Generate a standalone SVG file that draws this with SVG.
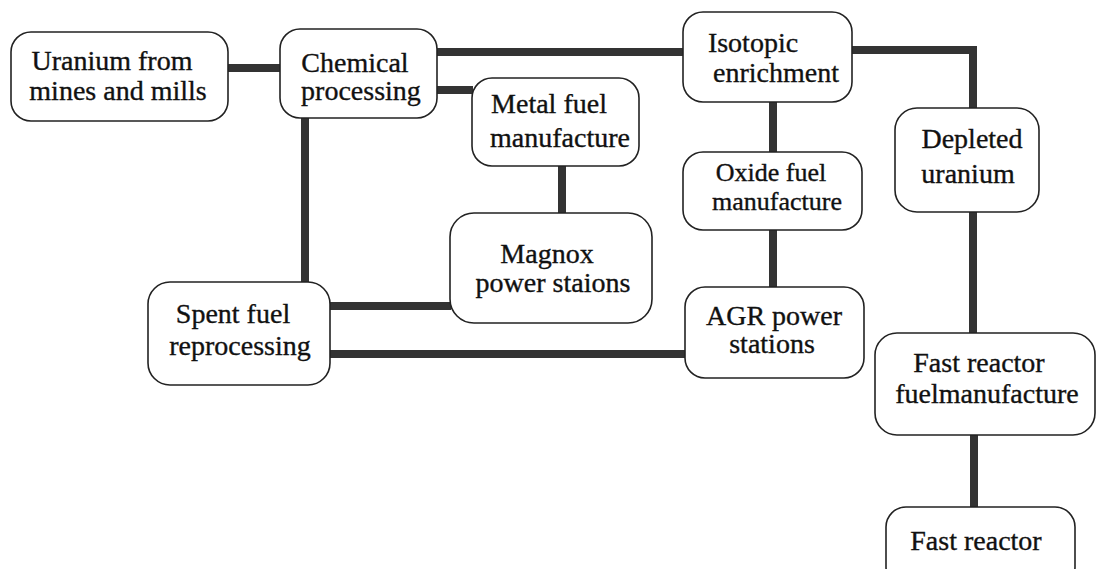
<svg xmlns="http://www.w3.org/2000/svg" width="1097" height="569" viewBox="0 0 1097 569">
<style>
.box{fill:#fff;stroke:#222;stroke-width:1.6}
.lbl{font-family:'Liberation Serif','Times New Roman',Times,serif;font-size:28px;fill:#111;stroke:#111;stroke-width:0.35;text-anchor:middle}
.sm{font-size:26px}
.con{fill:none;stroke:#333;stroke-width:8;stroke-linecap:butt;stroke-linejoin:miter}
</style>
<rect width="1097" height="569" fill="#fff"/>
<g id="connectors">
<line class="con" x1="228" y1="68" x2="281" y2="68"/>
<line class="con" x1="436" y1="52" x2="684" y2="52"/>
<line class="con" x1="436" y1="90" x2="473" y2="90"/>
<line class="con" x1="562" y1="165" x2="562" y2="214"/>
<line class="con" x1="305" y1="117" x2="305" y2="283"/>
<line class="con" x1="329" y1="306" x2="451" y2="306"/>
<line class="con" x1="329" y1="354" x2="686" y2="354"/>
<line class="con" x1="773" y1="101" x2="773" y2="153"/>
<line class="con" x1="773" y1="229" x2="773" y2="288"/>
<path class="con" d="M851 50 H973 V109"/>
<line class="con" x1="973" y1="211" x2="973" y2="334"/>
<line class="con" x1="974" y1="434" x2="974" y2="508"/>
</g>
<g id="uranium">
<rect class="box" x="11" y="32" width="217" height="89" rx="20"/>
<text class="lbl" x="112" y="70">Uranium from</text>
<text class="lbl" x="118" y="100">mines and mills</text>
</g>
<g id="chemical">
<rect class="box" x="280" y="29" width="157" height="89" rx="20"/>
<text class="lbl" x="355" y="72">Chemical</text>
<text class="lbl" x="361" y="100">processing</text>
</g>
<g id="metal">
<rect class="box" x="472" y="78" width="167" height="88" rx="20"/>
<text class="lbl" x="549" y="113">Metal fuel</text>
<text class="lbl" x="560" y="147">manufacture</text>
</g>
<g id="isotopic">
<rect class="box" x="683" y="12" width="169" height="90" rx="20"/>
<text class="lbl" x="753" y="52">Isotopic</text>
<text class="lbl" x="776" y="82">enrichment</text>
</g>
<g id="oxide">
<rect class="box" x="683" y="152" width="179" height="78" rx="20"/>
<text class="lbl sm" x="771" y="181">Oxide fuel</text>
<text class="lbl sm" x="777" y="210">manufacture</text>
</g>
<g id="agr">
<rect class="box" x="685" y="287" width="179" height="91" rx="20"/>
<text class="lbl" x="774" y="325">AGR power</text>
<text class="lbl" x="772" y="353">stations</text>
</g>
<g id="depleted">
<rect class="box" x="895" y="108" width="144" height="104" rx="22"/>
<text class="lbl" x="972" y="148">Depleted</text>
<text class="lbl" x="968" y="183">uranium</text>
</g>
<g id="magnox">
<rect class="box" x="450" y="213" width="202" height="110" rx="24"/>
<text class="lbl" x="547" y="263">Magnox</text>
<text class="lbl" x="553" y="292">power staions</text>
</g>
<g id="spent">
<rect class="box" x="148" y="282" width="182" height="103" rx="22"/>
<text class="lbl" x="233" y="323">Spent fuel</text>
<text class="lbl" x="240" y="355">reprocessing</text>
</g>
<g id="frfm">
<rect class="box" x="875" y="333" width="220" height="102" rx="22"/>
<text class="lbl" x="979" y="372">Fast reactor</text>
<text class="lbl" x="987" y="403">fuelmanufacture</text>
</g>
<g id="fastreactor">
<rect class="box" x="886" y="507" width="189" height="80" rx="20"/>
<text class="lbl" x="976" y="550">Fast reactor</text>
</g>
</svg>
